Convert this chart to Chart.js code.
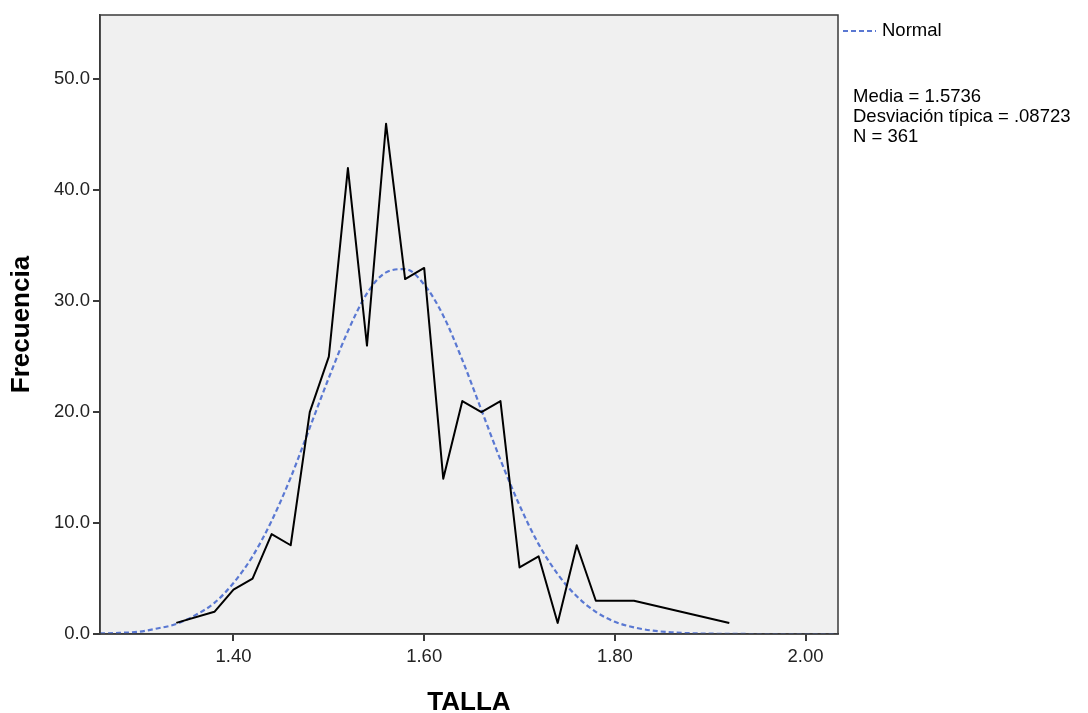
<!DOCTYPE html>
<html>
<head>
<meta charset="utf-8">
<script src="https://cdn.jsdelivr.net/npm/chart.js@4/dist/chart.umd.min.js"></script>
<style>
  html, body { margin: 0; padding: 0; background: #ffffff; }
  #wrap { width: 1088px; height: 713px; }
</style>
</head>
<body>
<div id="wrap"><canvas id="chart" width="1088" height="713"></canvas></div>
<script>
// Frecuencias observadas (polígono)
const tallaX = [1.34, 1.38, 1.40, 1.42, 1.44, 1.46, 1.48, 1.50, 1.52, 1.54, 1.56, 1.58,
                1.60, 1.62, 1.64, 1.66, 1.68, 1.70, 1.72, 1.74, 1.76, 1.78, 1.82, 1.92];
const frecuencia = [1, 2, 4, 5, 9, 8, 20, 25, 42, 26, 46, 32,
                    33, 14, 21, 20, 21, 6, 7, 1, 8, 3, 3, 1];

// Curva normal
const normalX = [1.26, 1.28, 1.30, 1.32, 1.34, 1.36, 1.38, 1.40, 1.42, 1.44, 1.46, 1.48,
                 1.50, 1.52, 1.54, 1.56, 1.58, 1.60, 1.62, 1.64, 1.66, 1.68, 1.70, 1.72,
                 1.74, 1.76, 1.78, 1.80, 1.82, 1.84, 1.86, 1.88, 1.90, 1.92, 1.96, 2.00, 2.04];
const normalY = [0.05, 0.1, 0.2, 0.5, 0.9, 1.7, 2.8, 4.6, 7.0, 10.2, 14.1, 18.6,
                 23.1, 27.3, 30.7, 32.6, 32.9, 31.5, 28.7, 24.7, 20.2, 15.7, 11.6, 8.1,
                 5.4, 3.4, 2.0, 1.1, 0.6, 0.3, 0.15, 0.07, 0.03, 0.01, 0, 0, 0];

const xTicks = [1.40, 1.60, 1.80, 2.00];
const yTicks = [0, 10, 20, 30, 40, 50];
const statsLines = ['Media = 1.5736', 'Desviación típica = .08723', 'N = 361'];

const FONT = "'Liberation Sans', Arial, sans-serif";

// Fondo gris del área de trazado y marco
const plotFrame = {
    id: 'plotFrame',
    beforeDraw(chart) {
        const { ctx, chartArea: a } = chart;
        ctx.save();
        ctx.fillStyle = '#f0f0f0';
        ctx.fillRect(a.left, a.top, a.right - a.left, a.bottom - a.top);
        ctx.restore();
    },
    afterDraw(chart) {
        const { ctx, chartArea: a } = chart;
        ctx.save();
        ctx.strokeStyle = '#3a3a3a';
        ctx.lineWidth = 1.5;
        ctx.strokeRect(a.left, a.top, a.right - a.left, a.bottom - a.top);

        // Leyenda "Normal"
        ctx.strokeStyle = '#5a78d2';
        ctx.lineWidth = 2;
        ctx.setLineDash([5, 3]);
        ctx.beginPath();
        ctx.moveTo(a.right + 5, 31);
        ctx.lineTo(a.right + 38, 31);
        ctx.stroke();
        ctx.setLineDash([]);

        ctx.fillStyle = '#000';
        ctx.font = '18.5px ' + FONT;
        ctx.textBaseline = 'middle';
        ctx.fillText('Normal', a.right + 44, 31);
        statsLines.forEach((t, i) => ctx.fillText(t, a.right + 15, 97 + i * 20));
        ctx.restore();
    }
};

new Chart(document.getElementById('chart'), {
    type: 'line',
    data: {
        datasets: [
            {
                label: 'Frecuencia',
                data: tallaX.map((x, i) => ({ x: x, y: frecuencia[i] })),
                borderColor: '#000000',
                borderWidth: 2,
                borderJoinStyle: 'round',
                pointRadius: 0,
                tension: 0,
                fill: false,
                order: 1
            },
            {
                label: 'Normal',
                data: normalX.map((x, i) => ({ x: x, y: normalY[i] })),
                borderColor: '#5a78d2',
                borderWidth: 2.2,
                borderDash: [5, 3],
                pointRadius: 0,
                cubicInterpolationMode: 'monotone',
                fill: false,
                order: 2
            }
        ]
    },
    options: {
        responsive: false,
        animation: false,
        layout: { padding: { top: 15, right: 250, left: 0, bottom: 0 } },
        plugins: {
            legend: { display: false },
            tooltip: { enabled: false }
        },
        scales: {
            x: {
                type: 'linear',
                min: 1.26,
                max: 2.034,
                afterBuildTicks: s => { s.ticks = xTicks.map(v => ({ value: v })); },
                afterFit: s => { s.height = 79; },
                grid: { drawOnChartArea: false, drawTicks: true, tickLength: 7, color: '#3a3a3a', lineWidth: 2 },
                border: { display: true, color: '#3a3a3a', width: 1.5 },
                ticks: {
                    padding: 5,
                    color: '#222',
                    font: { family: FONT, size: 18.5 },
                    callback: v => Number(v).toFixed(2)
                },
                title: {
                    display: true,
                    text: 'TALLA',
                    color: '#000',
                    font: { family: FONT, size: 26, weight: 'bold', lineHeight: 0.8 },
                    padding: { top: 0, bottom: 0 }
                }
            },
            y: {
                min: 0,
                max: 55.8,
                afterBuildTicks: s => { s.ticks = yTicks.map(v => ({ value: v })); },
                afterFit: s => { s.width = 100; },
                grid: { drawOnChartArea: false, drawTicks: true, tickLength: 7, color: '#3a3a3a', lineWidth: 2 },
                border: { display: true, color: '#3a3a3a', width: 1.5 },
                ticks: {
                    padding: 3,
                    color: '#222',
                    font: { family: FONT, size: 18.5 },
                    callback: v => Number(v).toFixed(1)
                },
                title: {
                    display: true,
                    text: 'Frecuencia',
                    color: '#000',
                    font: { family: FONT, size: 26, weight: 'bold', lineHeight: 1.2 },
                    padding: { top: 6, bottom: 0 }
                }
            }
        }
    },
    plugins: [plotFrame]
});
</script>
</body>
</html>
